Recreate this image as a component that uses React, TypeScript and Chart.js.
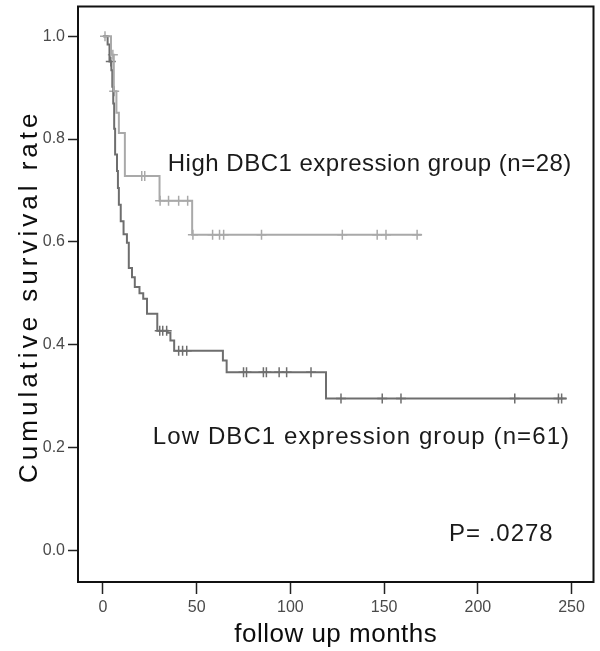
import React, { useEffect, useRef } from "react";
import { Chart, registerables } from "chart.js";

Chart.register(...registerables);

// ---- data ----
const xTickValues = [0, 50, 100, 150, 200, 250];
const yTickValues = [0, 0.2, 0.4, 0.6, 0.8, 1.0];

const highTimes = [0, 4.3, 5.8, 7.2, 8.5, 11.7, 30.2, 47.6, 170];
const highSurv = [1, 0.964, 0.893, 0.851, 0.812, 0.728, 0.68, 0.614, 0.614];
const highCensor = [1.1, 5.3, 6.0, 20.7, 22.3, 30.5, 35, 40.4, 45.2, 48, 58.5, 62.2, 64.4, 84.6, 127.7, 146.3, 151, 167.6];

const lowTimes = [0, 2.5, 3.5, 4.5, 5, 5.5, 6, 6.5, 7.5, 8, 8.5, 9.5, 11, 12.8, 13.8, 15.5, 17, 19.5, 21.5, 23.5, 29, 34.5, 36, 38, 64, 66, 119, 247.3];
const lowSurv = [1, 0.984, 0.951, 0.934, 0.902, 0.869, 0.82, 0.77, 0.738, 0.705, 0.672, 0.64, 0.615, 0.598, 0.549, 0.531, 0.512, 0.5, 0.489, 0.46, 0.427, 0.423, 0.408, 0.388, 0.369, 0.346, 0.295, 0.295];
const lowCensor = [4.2, 30.3, 31.9, 34, 40.4, 42.5, 44.7, 75, 76.6, 85.6, 87.2, 94, 98, 111, 127, 149, 159, 219.7, 243, 244.7];

const highLabel = "High DBC1 expression group (n=28)";
const lowLabel = "Low DBC1 expression group (n=61)";
const pLabel = "P= .0278";
const xTitle = "follow up months";
const yTitle = "Cumulative survival rate";

const HIGH_COLOR = "#a9a9a9";
const LOW_COLOR = "#6e6e6e";
const FONT = "'Liberation Sans', Arial, sans-serif";

function survivalAt(times: number[], surv: number[], t: number): number {
  let s = surv[0];
  for (let i = 0; i < times.length; i++) {
    if (times[i] <= t) s = surv[i];
  }
  return s;
}

const stepPoints = (times: number[], surv: number[]) => times.map((t, i) => ({ x: t, y: surv[i] }));
const censorPoints = (c: number[], times: number[], surv: number[]) =>
  c.map((t) => ({ x: t, y: survivalAt(times, surv, t) }));

// annotation placement (data coordinates of left edge / vertical centre)
const notes = [
  { text: highLabel, x: 34.6, y: 0.751, size: 24, spacing: 0.5 },
  { text: lowLabel, x: 26.6, y: 0.219, size: 24, spacing: 1.1 },
  { text: pLabel, x: 184.6, y: 0.031, size: 24, spacing: 1 },
];

const overlayPlugin = {
  id: "overlay",
  afterDraw(chart: any) {
    const { ctx, chartArea: a, scales } = chart;
    ctx.save();
    ctx.strokeStyle = "#111";
    ctx.lineWidth = 2;
    ctx.strokeRect(a.left, a.top, a.right - a.left, a.bottom - a.top);

    ctx.fillStyle = "#1a1a1a";
    ctx.textBaseline = "middle";
    ctx.textAlign = "left";
    for (const n of notes) {
      ctx.font = `${n.size}px ${FONT}`;
      (ctx as any).letterSpacing = `${n.spacing}px`;
      ctx.fillText(n.text, scales.x.getPixelForValue(n.x), scales.y.getPixelForValue(n.y));
    }

    // axis titles
    ctx.fillStyle = "#0d0d0d";
    ctx.textAlign = "center";
    ctx.font = `26px ${FONT}`;
    (ctx as any).letterSpacing = "0.5px";
    ctx.fillText(xTitle, (a.left + a.right) / 2, 635);

    ctx.save();
    ctx.translate(30, (a.top + a.bottom) / 2 + 2);
    ctx.rotate(-Math.PI / 2);
    ctx.font = `26px ${FONT}`;
    (ctx as any).letterSpacing = "4px";
    ctx.fillText(yTitle, 0, 0);
    ctx.restore();

    ctx.restore();
  },
};

export default function App() {
  const ref = useRef<HTMLCanvasElement | null>(null);

  useEffect(() => {
    if (!ref.current) return;
    const chart = new Chart(ref.current, {
      type: "line",
      data: {
        datasets: [
          {
            label: "High",
            data: stepPoints(highTimes, highSurv),
            borderColor: HIGH_COLOR,
            borderWidth: 2,
            stepped: true,
            pointRadius: 0,
            fill: false,
          },
          {
            label: "Low",
            data: stepPoints(lowTimes, lowSurv),
            borderColor: LOW_COLOR,
            borderWidth: 2,
            stepped: true,
            pointRadius: 0,
            fill: false,
          },
          {
            label: "High censored",
            data: censorPoints(highCensor, highTimes, highSurv),
            showLine: false,
            pointStyle: "cross",
            pointRadius: 5,
            pointBorderWidth: 1.5,
            pointBorderColor: HIGH_COLOR,
            borderColor: HIGH_COLOR,
          },
          {
            label: "Low censored",
            data: censorPoints(lowCensor, lowTimes, lowSurv),
            showLine: false,
            pointStyle: "cross",
            pointRadius: 5,
            pointBorderWidth: 1.5,
            pointBorderColor: LOW_COLOR,
            borderColor: LOW_COLOR,
          },
        ],
      } as any,
      options: {
        animation: false,
        responsive: true,
        maintainAspectRatio: false,
        layout: { padding: { left: 0, top: 5, right: 5, bottom: 0 } },
        plugins: { legend: { display: false }, tooltip: { enabled: false }, title: { display: false } },
        scales: {
          x: {
            type: "linear",
            min: -13.3,
            max: 261.7,
            afterBuildTicks: (s: any) => {
              s.ticks = xTickValues.map((v) => ({ value: v }));
            },
            afterFit: (s: any) => {
              s.height = 69;
              s.paddingLeft = 0;
              s.paddingRight = 0;
            },
            grid: { drawOnChartArea: false, drawTicks: true, tickLength: 12, color: "#222", tickWidth: 1.5 } as any,
            border: { display: false },
            ticks: {
              color: "#4a4a4a",
              font: { family: FONT, size: 16 },
              padding: 4,
              maxRotation: 0,
              callback: (v: any) => String(v),
            },
          },
          y: {
            type: "linear",
            min: -0.062,
            max: 1.058,
            afterBuildTicks: (s: any) => {
              s.ticks = yTickValues.map((v) => ({ value: v }));
            },
            afterFit: (s: any) => {
              s.width = 78;
              s.paddingTop = 0;
              s.paddingBottom = 0;
            },
            grid: { drawOnChartArea: false, drawTicks: true, tickLength: 10, color: "#222", tickWidth: 1.5 } as any,
            border: { display: false },
            ticks: {
              color: "#4a4a4a",
              font: { family: FONT, size: 16 },
              padding: 3,
              callback: (v: any) => Number(v).toFixed(1),
            },
          },
        },
      } as any,
      plugins: [overlayPlugin],
    });
    return () => chart.destroy();
  }, []);

  return (
    <div style={{ position: "absolute", left: 0, top: 0, width: 600, height: 651, background: "#fff" }}>
      <canvas ref={ref} />
    </div>
  );
}
